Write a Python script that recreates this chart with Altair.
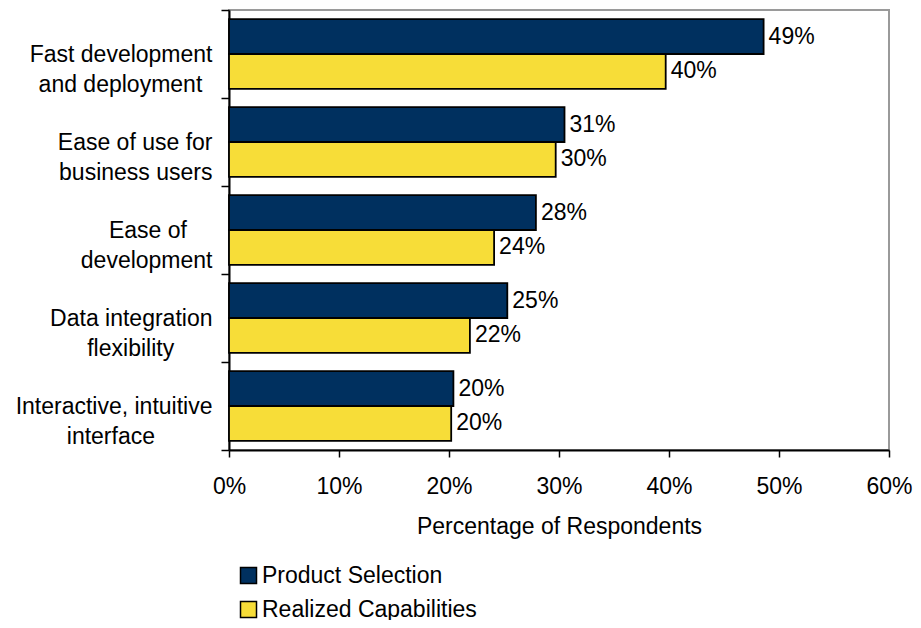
import altair as alt
import pandas as pd

NB = "\u00a0"
ZW = "\u200b"
categories = [
    "Fast development|and deployment" + NB + "\u2006" + ZW,
    "Ease of use for|business users",
    "Ease of" + NB * 4 + ZW + "|development",
    "Data integration|flexibility" + NB * 6 + ZW,
    "Interactive, intuitive|interface" + NB * 9 + ZW,
]
series = ["Product Selection", "Realized Capabilities"]
product_selection = [48.6, 30.5, 27.9, 25.3, 20.4]
realized_capabilities = [39.7, 29.7, 24.1, 21.9, 20.2]
x_ticks = [0, 10, 20, 30, 40, 50, 60]
colors = ["#00305F", "#F7DD38"]

rows = []
for c, a, b in zip(categories, product_selection, realized_capabilities):
    rows.append({"category": c, "series": series[0], "value": a})
    rows.append({"category": c, "series": series[1], "value": b})
df = pd.DataFrame(rows)

FONT = "Liberation Sans"
FS = 23

y_enc = alt.Y(
    "category:N",
    sort=categories,
    scale=alt.Scale(paddingInner=0, paddingOuter=0),
    axis=alt.Axis(
        title=None,
        labelExpr="split(datum.label, '|')",
        labelAlign="right",
        labelBaseline="middle",
        labelFontSize=FS,
        labelLineHeight=30,
        labelPadding=9,
        labelColor="black",
        labelLimit=400,
        tickBand="extent",
        tickSize=8,
        tickColor="black",
        tickWidth=1.5,
        domainColor="black",
        domainWidth=2,
    ),
)
yoff = alt.YOffset("series:N", sort=series, scale=alt.Scale(paddingOuter=0.26, paddingInner=0))
x_enc = alt.X(
    "value:Q",
    scale=alt.Scale(domain=[0, 60], nice=False),
    axis=alt.Axis(
        title="Percentage of Respondents",
        values=x_ticks,
        labelExpr="datum.value + '%'",
        labelFontSize=FS,
        labelColor="black",
        labelPadding=18,
        labelFlush=False,
        tickSize=7,
        tickColor="black",
        tickWidth=1.5,
        domainColor="black",
        domainWidth=2,
        grid=False,
        titleFontSize=FS,
        titleFontWeight="normal",
        titleColor="black",
        titlePadding=17,
    ),
)

bars = alt.Chart(df).mark_bar(stroke="black", strokeWidth=1.8).encode(
    x=x_enc,
    y=y_enc,
    yOffset=yoff,
    color=alt.Color(
        "series:N",
        sort=series,
        scale=alt.Scale(domain=series, range=colors),
        legend=alt.Legend(
            title=None,
            orient="none",
            legendX=8,
            legendY=554,
            direction="vertical",
            symbolType="square",
            symbolSize=256,
            symbolStrokeColor="black",
            symbolStrokeWidth=1.5,
            labelFontSize=FS,
            labelColor="black",
            labelOffset=2,
            labelLimit=400,
            rowPadding=10,
            padding=0,
        ),
    ),
)

labels = alt.Chart(df).mark_text(
    align="left", baseline="middle", dx=5, fontSize=FS, color="black"
).encode(
    x="value:Q",
    y=alt.Y("category:N", sort=categories),
    yOffset=alt.YOffset("series:N", sort=series),
    text=alt.Text("label:N"),
).transform_calculate(label="format(datum.value, '.0f') + '%'")

chart = (
    alt.layer(bars, labels)
    .properties(
        width=660,
        height=440,
        padding={"left": 221, "top": 2, "right": 24, "bottom": 170},
        autosize=alt.AutoSizeParams(type="none"),
    )
    .configure(font=FONT)
    .configure_view(stroke="#9a9a9a", strokeWidth=2)
)

chart.save("out.html", embed_options={"renderer": "svg", "actions": False})
